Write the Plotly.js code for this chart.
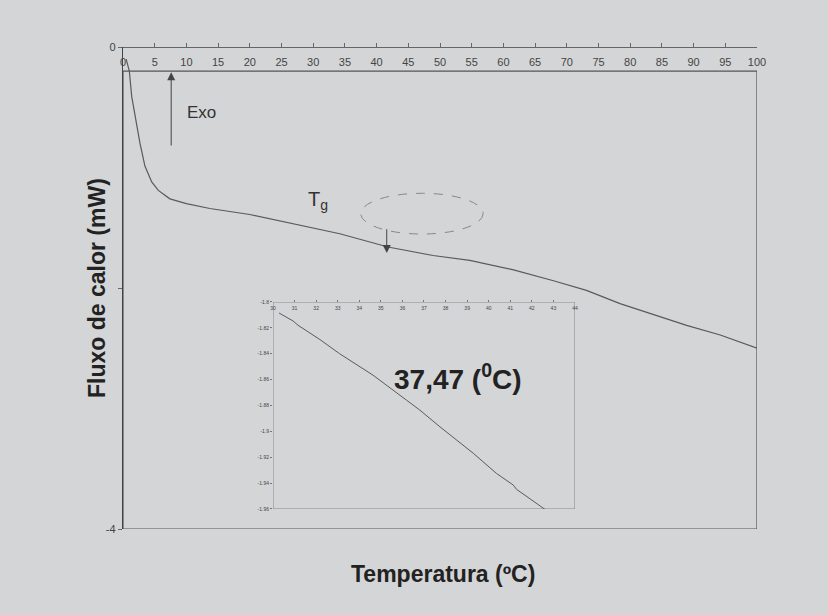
<!DOCTYPE html>
<html>
<head>
<meta charset="utf-8">
<script src="https://cdn.plot.ly/plotly-3.0.1.min.js"></script>
<style>html,body{margin:0;padding:0;background:#d4d5d7;}#chart{width:828px;height:615px;}</style>
</head>
<body>
<div id="chart"></div>
<script>
// Main DSC curve
const temperature = [0.5, 0.9, 1.0, 1.37, 1.89, 2.68, 3.47, 4.53, 5.57, 7.4, 10.0, 13.7, 20.0, 25.3, 34.2, 41.8, 48.9, 54.7, 61.6, 67.9, 73.1, 78.4, 83.6, 88.9, 94.2, 100];
const heatFlow    = [-0.10, -0.17, -0.20, -0.41, -0.58, -0.80, -0.99, -1.12, -1.19, -1.26, -1.30, -1.34, -1.39, -1.45, -1.55, -1.66, -1.73, -1.77, -1.85, -1.94, -2.02, -2.13, -2.22, -2.31, -2.39, -2.50];
// Inset (zoom around Tg)
const insetTemp = [30.28, 30.93, 31.16, 32.17, 33.09, 34.64, 36.19, 36.81, 37.74, 39.29, 40.36, 41.14, 41.29, 42.61];
const insetFlow = [-1.8085, -1.8147, -1.818, -1.829, -1.840, -1.8566, -1.8759, -1.8836, -1.8965, -1.917, -1.9325, -1.9415, -1.9448, -1.9603];
// Tick labels
const mainXTicks = [0,5,10,15,20,25,30,35,40,45,50,55,60,65,70,75,80,85,90,95,100];
const mainYTicks = [0, -2, -4];
const mainYText  = ["0", "", "-4"];
const insetXTicks = [30,31,32,33,34,35,36,37,38,39,40,41,42,43,44];
const insetYTicks = [-1.8,-1.82,-1.84,-1.86,-1.88,-1.9,-1.92,-1.94,-1.96];

const font = "Liberation Sans, Arial, sans-serif";
const bg = "#d4d5d7";
const insetXDomain = [0.2366, 0.7129];
const insetYDomain = [0.0415, 0.471];

const traces = [
  {x: temperature, y: heatFlow, type: "scatter", mode: "lines",
   line: {color: "#5a5a5a", width: 1.2}, xaxis: "x", yaxis: "y", hoverinfo: "skip"},
  {x: insetTemp, y: insetFlow, type: "scatter", mode: "lines",
   line: {color: "#5a5a5a", width: 1}, xaxis: "x2", yaxis: "y2", hoverinfo: "skip"}
];

const layout = {
  width: 828, height: 615,
  paper_bgcolor: bg, plot_bgcolor: bg,
  showlegend: false,
  margin: {l: 123, r: 71, t: 47, b: 86},
  xaxis: {
    range: [0, 100], side: "bottom", anchor: "free", position: 1, domain: [0, 1],
    tickvals: mainXTicks, ticktext: mainXTicks.map(String),
    ticks: "inside", ticklen: 4, tickcolor: "#666",
    ticklabelstandoff: 5,
    showline: true, linecolor: "#666", linewidth: 1,
    showgrid: false, zeroline: false,
    tickfont: {family: font, size: 11, color: "#444"}
  },
  yaxis: {
    range: [-4, 0], domain: [0, 1],
    tickvals: mainYTicks, ticktext: mainYText,
    ticks: "outside", ticklen: 4, tickcolor: "#666",
    showline: true, linecolor: "#444", linewidth: 1.2,
    showgrid: false, zeroline: false,
    tickfont: {family: font, size: 11, color: "#444"}
  },
  xaxis2: {
    domain: insetXDomain, range: [30, 44], side: "bottom", anchor: "free", position: insetYDomain[1],
    tickvals: insetXTicks, ticktext: insetXTicks.map(String),
    ticks: "inside", ticklen: 2, tickcolor: "#777",
    ticklabelstandoff: 2,
    showline: false,
    showgrid: false, zeroline: false,
    tickfont: {family: font, size: 5, color: "#444"}
  },
  yaxis2: {
    anchor: "x2", domain: insetYDomain, range: [-1.96, -1.8],
    tickvals: insetYTicks, ticktext: insetYTicks.map(String),
    ticks: "outside", ticklen: 2, tickcolor: "#777",
    showline: false,
    showgrid: false, zeroline: false,
    tickfont: {family: font, size: 5, color: "#444"}
  },
  shapes: [
    {type: "rect", xref: "x", yref: "y", x0: 0, x1: 100, y0: -4, y1: -0.2,
     line: {color: "#555", width: 1.2}, fillcolor: "rgba(0,0,0,0)", layer: "below"},
    {type: "rect", xref: "x2", yref: "y2", x0: 30, x1: 44, y0: -1.96, y1: -1.8,
     line: {color: "#888", width: 1}, fillcolor: "rgba(0,0,0,0)", layer: "below"},
    {type: "circle", xref: "x", yref: "y", x0: 37.5, x1: 56.8, y0: -1.552, y1: -1.214,
     line: {color: "#888", width: 1, dash: "dash"}}
  ],
  annotations: [
    {xref: "paper", yref: "paper", x: 0.505, y: -0.062, yanchor: "top", xanchor: "center",
     text: "<b>Temperatura (ºC)</b>", showarrow: false,
     font: {family: font, size: 23, color: "#222"}},
    {xref: "paper", yref: "paper", x: -0.041, y: 0.5, xanchor: "center", yanchor: "middle",
     text: "<b>Fluxo de calor (mW)</b>", textangle: -90, showarrow: false,
     font: {family: font, size: 23, color: "#222"}},
    {xref: "x", yref: "y", x: 9.8, y: -0.54, xanchor: "left", yanchor: "middle",
     text: "Exo", showarrow: false, font: {family: font, size: 17, color: "#333"}},
    {xref: "x", yref: "y", x: 7.6, y: -0.21, axref: "x", ayref: "y", ax: 7.6, ay: -0.83,
     text: "", showarrow: true, arrowhead: 2, arrowsize: 1.6, arrowwidth: 1, arrowcolor: "#444"},
    {xref: "x", yref: "y", x: 28.8, y: -1.27, xanchor: "left", yanchor: "middle",
     text: "T<sub>g</sub>", showarrow: false, font: {family: font, size: 20, color: "#333"}},
    {xref: "x", yref: "y", x: 41.6, y: -1.71, axref: "x", ayref: "y", ax: 41.6, ay: -1.50,
     text: "", showarrow: true, arrowhead: 2, arrowsize: 1.6, arrowwidth: 1, arrowcolor: "#444"},
    {xref: "x2", yref: "y2", x: 38.58, y: -1.858, xanchor: "center", yanchor: "middle",
     text: "<b>37,47 (<sup>0</sup>C)</b>", showarrow: false,
     font: {family: font, size: 28, color: "#222"}}
  ]
};

Plotly.newPlot("chart", traces, layout, {staticPlot: true, displayModeBar: false});
</script>
</body>
</html>
